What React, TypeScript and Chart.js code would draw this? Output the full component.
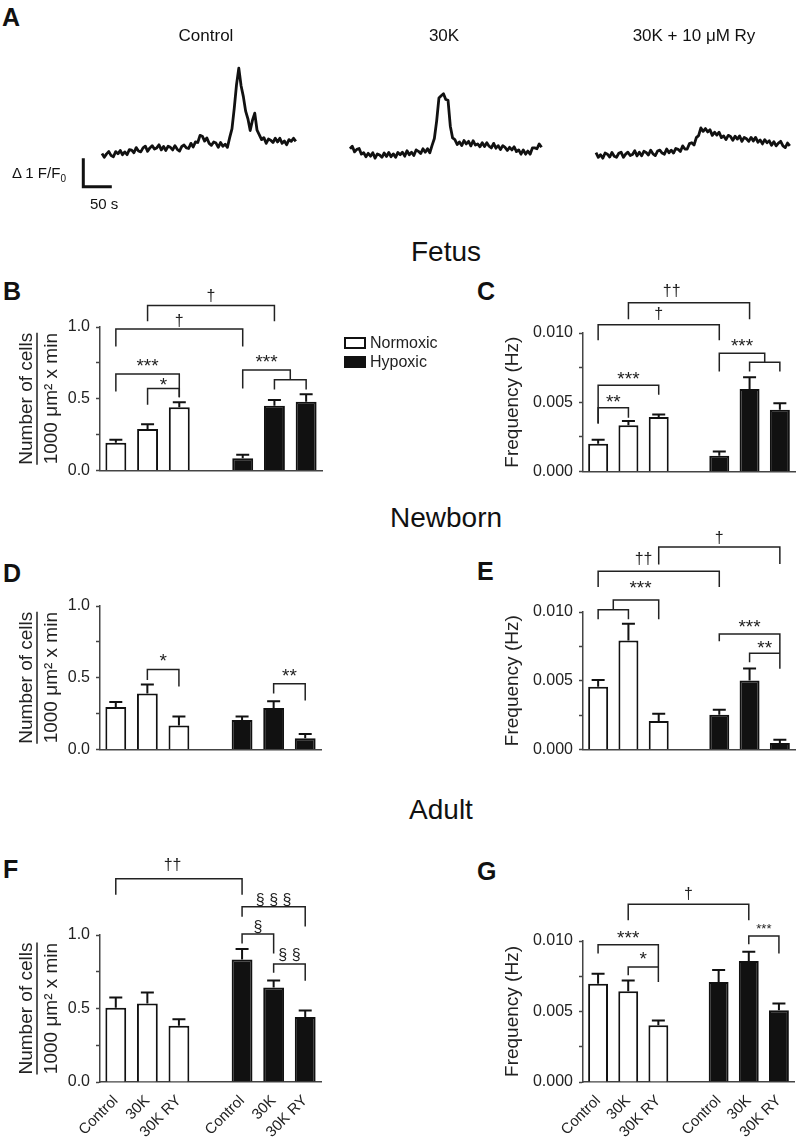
import React, { useEffect, useRef } from 'react';
import { Chart, registerables } from 'chart.js';
Chart.register(...registerables);

const FONT = '"Liberation Sans", Arial, Helvetica, sans-serif';
Chart.defaults.font.family = FONT;
Chart.defaults.color = '#222';

// ---------- Panel A: Ca2+ traces (ΔF/F0), one sample every TRACE_DT seconds ----------
const TRACE_DT = 4;
const CONTROL_TRACE = [0.40,0.27,0.39,0.47,0.33,0.29,0.47,0.39,0.51,0.36,0.46,0.36,0.54,0.52,0.43,0.61,0.49,0.46,0.60,0.66,0.48,0.60,0.68,0.56,0.60,0.71,0.53,0.65,0.51,0.66,0.62,0.53,0.68,0.55,0.49,0.65,0.70,0.60,0.58,0.76,0.63,0.81,0.79,1.04,1.01,0.84,0.95,0.76,0.69,0.81,0.77,0.62,0.79,0.66,0.73,0.62,0.96,1.27,1.99,2.82,3.40,2.78,2.40,1.89,1.62,1.21,1.57,1.82,1.22,1.06,0.89,0.96,0.76,0.91,0.87,0.79,0.94,0.81,0.94,0.76,0.84,0.71,0.89,0.83,0.94,0.83];
const K30_TRACE = [0.57,0.66,0.46,0.55,0.58,0.38,0.43,0.29,0.41,0.31,0.43,0.24,0.39,0.35,0.27,0.42,0.30,0.44,0.29,0.39,0.27,0.44,0.36,0.45,0.31,0.50,0.36,0.45,0.33,0.53,0.48,0.40,0.57,0.45,0.57,0.43,0.69,0.93,1.54,2.35,2.43,2.50,2.30,2.27,1.36,0.95,0.89,0.72,0.81,0.68,0.86,0.74,0.83,0.67,0.85,0.70,0.74,0.64,0.78,0.65,0.78,0.66,0.60,0.76,0.59,0.68,0.54,0.68,0.62,0.51,0.62,0.53,0.64,0.47,0.53,0.38,0.53,0.38,0.49,0.38,0.60,0.60,0.57,0.74,0.62];
const RY_TRACE = [0.43,0.27,0.36,0.24,0.42,0.38,0.28,0.44,0.31,0.27,0.41,0.45,0.27,0.38,0.45,0.33,0.37,0.50,0.32,0.45,0.32,0.48,0.44,0.35,0.52,0.39,0.33,0.49,0.52,0.42,0.38,0.56,0.43,0.52,0.42,0.58,0.55,0.47,0.67,0.56,0.56,0.75,0.78,0.70,0.96,1.03,1.30,1.18,1.28,1.16,1.24,1.04,1.15,1.05,1.15,0.96,1.02,0.89,1.04,1.00,0.87,1.01,0.91,1.02,0.83,0.97,0.92,0.83,0.97,0.84,0.97,0.80,0.88,0.74,0.89,0.78,0.85,0.69,0.82,0.67,0.77,0.83,0.67,0.61,0.77,0.67];
const TRACE_TITLES = ['Control', '30K', '30K + 10 μM Ry'];
const SCALE_BAR_SEC = 50;
const SCALE_BAR_DFF = 1;

// ---------- Bar panels ----------
const GROUPS = ['Control', '30K', '30K RY', '', 'Control', '30K', '30K RY'];
const SERIES = ['Normoxic', 'Hypoxic'];

// Fetus
const B_NORMOXIC = [0.193, 0.288, 0.44];
const B_NORMOXIC_SEM = [0.02, 0.034, 0.036];
const B_HYPOXIC = [0.084, 0.451, 0.478];
const B_HYPOXIC_SEM = [0.025, 0.04, 0.053];
const C_NORMOXIC = [0.0020, 0.00334, 0.00393];
const C_NORMOXIC_SEM = [0.00028, 0.00031, 0.00019];
const C_HYPOXIC = [0.00113, 0.00595, 0.00445];
const C_HYPOXIC_SEM = [0.00031, 0.00085, 0.00047];
// Newborn
const D_NORMOXIC = [0.295, 0.389, 0.166];
const D_NORMOXIC_SEM = [0.035, 0.063, 0.064];
const D_HYPOXIC = [0.205, 0.289, 0.077];
const D_HYPOXIC_SEM = [0.025, 0.047, 0.030];
const E_NORMOXIC = [0.00456, 0.00792, 0.00206];
const E_NORMOXIC_SEM = [0.0005, 0.00123, 0.00054];
const E_HYPOXIC = [0.00253, 0.00501, 0.00047];
const E_HYPOXIC_SEM = [0.00035, 0.00088, 0.00024];
// Adult
const F_NORMOXIC = [0.505, 0.534, 0.382];
const F_NORMOXIC_SEM = [0.07, 0.075, 0.045];
const F_HYPOXIC = [0.834, 0.643, 0.443];
const F_HYPOXIC_SEM = [0.071, 0.048, 0.043];
const G_NORMOXIC = [0.00697, 0.00643, 0.00402];
const G_NORMOXIC_SEM = [0.00071, 0.00076, 0.00035];
const G_HYPOXIC = [0.00709, 0.00858, 0.00508];
const G_HYPOXIC_SEM = [0.00085, 0.00066, 0.00048];

// Significance brackets: category index from/to, bar level, leg ends, label and its level
type Bracket = { from: number; to: number; y: number; l1: number; l2: number; text?: string; ty?: number; tx?: number; size?: number };
const B_BRACKETS: Bracket[] = [
  { from: 1, to: 5, y: 1.15, l1: 1.04, l2: 1.04, text: '†', ty: 1.22 },
  { from: 0, to: 4, y: 0.986, l1: 0.864, l2: 0.864, text: '†', ty: 1.048 },
  { from: 0, to: 2, y: 0.673, l1: 0.551, l2: 0.51, text: '***', ty: 0.755 },
  { from: 1, to: 2, y: 0.571, l1: 0.458, l2: 0.51, text: '*', ty: 0.619 },
  { from: 4, to: 5.5, y: 0.70, l1: 0.571, l2: 0.633, text: '***', ty: 0.782 },
  { from: 5, to: 6, y: 0.633, l1: 0.565, l2: 0.565 },
];
const C_BRACKETS: Bracket[] = [
  { from: 1, to: 5, y: 0.01219, l1: 0.0110, l2: 0.0110, text: '††', ty: 0.01306, tx: 2.43 },
  { from: 0, to: 4, y: 0.01059, l1: 0.00948, l2: 0.00948, text: '†', ty: 0.01143 },
  { from: 0, to: 2, y: 0.00623, l1: 0.00346, l2: 0.00553, text: '***', ty: 0.00692 },
  { from: 0, to: 1, y: 0.00459, l1: 0.00346, l2: 0.00388, text: '**', ty: 0.00529 },
  { from: 4, to: 5.5, y: 0.00854, l1: 0.00722, l2: 0.00788, text: '***', ty: 0.00932 },
  { from: 5, to: 6, y: 0.00788, l1: 0.00722, l2: 0.00722 },
];
const D_BRACKETS: Bracket[] = [
  { from: 1, to: 2, y: 0.557, l1: 0.484, l2: 0.439, text: '*', ty: 0.639 },
  { from: 5, to: 6, y: 0.457, l1: 0.389, l2: 0.341, text: '**', ty: 0.536 },
];
const E_BRACKETS: Bracket[] = [
  { from: 2, to: 6, y: 0.01473, l1: 0.01345, l2: 0.0135, text: '†', ty: 0.01544 },
  { from: 0, to: 4, y: 0.01296, l1: 0.01182, l2: 0.01182, text: '††', ty: 0.0139, tx: 1.5 },
  { from: 0, to: 1, y: 0.01017, l1: 0.00948, l2: 0.00948 },
  { from: 0.5, to: 2, y: 0.01088, l1: 0.01017, l2: 0.00948, text: '***', ty: 0.01201, tx: 1.4 },
  { from: 4, to: 6, y: 0.0084, l1: 0.00787, l2: 0.00587, text: '***', ty: 0.00918 },
  { from: 5, to: 6, y: 0.007, l1: 0.00634, l2: 0.007, text: '**', ty: 0.00764 },
];
const F_BRACKETS: Bracket[] = [
  { from: 0, to: 4, y: 1.382, l1: 1.273, l2: 1.273, text: '††', ty: 1.477, tx: 1.8 },
  { from: 4, to: 6, y: 1.193, l1: 1.125, l2: 1.057, text: '§ § §', ty: 1.239 },
  { from: 4, to: 5, y: 1.007, l1: 0.943, l2: 0.875, text: '§', ty: 1.057 },
  { from: 5, to: 6, y: 0.802, l1: 0.743, l2: 0.688, text: '§ §', ty: 0.864 },
];
const G_BRACKETS: Bracket[] = [
  { from: 1, to: 5, y: 0.0126, l1: 0.01147, l2: 0.01147, text: '†', ty: 0.01336 },
  { from: 0, to: 2, y: 0.00974, l1: 0.00911, l2: 0.00709, text: '***', ty: 0.01047 },
  { from: 1, to: 2, y: 0.00816, l1: 0.00757, l2: 0.00816, text: '*', ty: 0.00894 },
  { from: 5, to: 6, y: 0.01035, l1: 0.00977, l2: 0.00911, text: '***', ty: 0.01104, size: 13 },
];

const COUNT_TITLE = ['Number of cells', '1000 μm² x min'];
const FREQ_TITLE = 'Frequency (Hz)';

const INK = '#111';
const Y_AXIS_W = 100;

function labelSize(t: string) {
  return t.includes('*') ? 19 : 16;
}

function makeOverlayPlugin(brackets: Bracket[], legend: boolean, underline: boolean) {
  return {
    id: 'overlay',
    afterDatasetsDraw(chart: any) {
      const ctx = chart.ctx;
      const xs = chart.scales.x;
      const ys = chart.scales.y;
      ctx.save();
      // error bars
      chart.data.datasets.forEach((ds: any, i: number) => {
        const meta = chart.getDatasetMeta(i);
        meta.data.forEach((el: any, j: number) => {
          const v = ds.data[j];
          const e = ds.errors ? ds.errors[j] : null;
          if (v == null || e == null) return;
          const x = el.x;
          const y0 = ys.getPixelForValue(v);
          const y1 = ys.getPixelForValue(v + e);
          ctx.strokeStyle = INK;
          ctx.lineWidth = 2;
          ctx.beginPath();
          ctx.moveTo(x, y0);
          ctx.lineTo(x, y1);
          ctx.moveTo(x - 6.5, y1);
          ctx.lineTo(x + 6.5, y1);
          ctx.stroke();
        });
      });
      // brackets
      ctx.strokeStyle = '#222';
      ctx.lineWidth = 1.5;
      ctx.lineJoin = 'miter';
      brackets.forEach((b) => {
        const x1 = xs.getPixelForValue(b.from);
        const x2 = xs.getPixelForValue(b.to);
        const yb = ys.getPixelForValue(b.y);
        ctx.beginPath();
        ctx.moveTo(x1, ys.getPixelForValue(b.l1));
        ctx.lineTo(x1, yb);
        ctx.lineTo(x2, yb);
        ctx.lineTo(x2, ys.getPixelForValue(b.l2));
        ctx.stroke();
        if (b.text) {
          const size = b.size || labelSize(b.text);
          ctx.font = `${size}px ${FONT}`;
          ctx.fillStyle = '#222';
          ctx.textAlign = 'center';
          ctx.textBaseline = 'alphabetic';
          const m = ctx.measureText(b.text);
          const yc = ys.getPixelForValue(b.ty ?? b.y);
          const base = yc + (m.actualBoundingBoxAscent - m.actualBoundingBoxDescent) / 2;
          const xc = xs.getPixelForValue(b.tx ?? (b.from + b.to) / 2);
          ctx.fillText(b.text, xc, base);
        }
      });
      // underline of fraction title
      if (underline) {
        ctx.font = `19px ${FONT}`;
        const w = ctx.measureText(COUNT_TITLE[0]).width;
        const cx = ys.left + 37;
        const cy = (ys.top + ys.bottom) / 2;
        ctx.strokeStyle = '#222';
        ctx.lineWidth = 1.5;
        ctx.beginPath();
        ctx.moveTo(cx, cy - w / 2);
        ctx.lineTo(cx, cy + w / 2);
        ctx.stroke();
      }
      // legend
      if (legend) {
        const x0 = chart.chartArea.right + 23;
        chart.data.datasets.forEach((ds: any, i: number) => {
          const yc = chart.chartArea.top + 16 + i * 19;
          ctx.fillStyle = ds.backgroundColor;
          ctx.fillRect(x0, yc - 5, 20, 10);
          ctx.strokeStyle = INK;
          ctx.lineWidth = 2;
          ctx.strokeRect(x0, yc - 5, 20, 10);
          ctx.fillStyle = '#222';
          ctx.font = `16px ${FONT}`;
          ctx.textAlign = 'left';
          ctx.textBaseline = 'middle';
          ctx.fillText(ds.label, x0 + 25, yc + 1);
        });
      }
      ctx.restore();
    },
  };
}

type PanelProps = {
  area: { x: number; y: number; w: number; h: number };
  pt: number; pr: number; xh: number;
  yMax: number; dec: number;
  title: string | string[];
  norm: number[]; normErr: number[]; hyp: number[]; hypErr: number[];
  brackets: Bracket[];
  legend?: boolean; xLabels?: boolean;
};

function BarPanel(p: PanelProps) {
  const ref = useRef<HTMLCanvasElement>(null);
  const W = Y_AXIS_W + p.area.w + p.pr;
  const H = p.pt + p.area.h + p.xh;
  useEffect(() => {
    const pad = [null, null, null, null];
    const fraction = Array.isArray(p.title);
    const chart = new Chart(ref.current as HTMLCanvasElement, {
      type: 'bar',
      data: {
        labels: GROUPS,
        datasets: [
          { label: SERIES[0], data: [...p.norm, ...pad], errors: [...p.normErr, ...pad], backgroundColor: '#ffffff', borderColor: INK, borderWidth: 2, grouped: false, barPercentage: 0.66, categoryPercentage: 1 } as any,
          { label: SERIES[1], data: [...pad, ...p.hyp], errors: [...pad, ...p.hypErr], backgroundColor: INK, borderColor: INK, borderWidth: 2, grouped: false, barPercentage: 0.66, categoryPercentage: 1 } as any,
        ],
      },
      options: {
        responsive: false,
        animation: false,
        events: [],
        layout: { padding: { left: 0, top: p.pt, right: p.pr, bottom: 0 } },
        plugins: { legend: { display: false }, tooltip: { enabled: false } },
        scales: {
          x: {
            type: 'category',
            offset: true,
            grid: { display: false },
            border: { display: true, color: '#444', width: 1.5 },
            ticks: { display: !!p.xLabels, autoSkip: false, minRotation: 45, maxRotation: 45, font: { size: 15, family: FONT }, color: '#222', padding: 2 },
            afterFit: (s: any) => { s.height = p.xh; },
          },
          y: {
            min: 0,
            max: p.yMax,
            ticks: {
              stepSize: p.yMax / 4,
              autoSkip: false,
              padding: 6,
              font: { size: 16, family: FONT },
              color: '#222',
              callback: (v: any) => {
                const r = v / (p.yMax / 2);
                return Math.abs(r - Math.round(r)) < 1e-6 ? Number(v).toFixed(p.dec) : '';
              },
            },
            grid: { display: true, drawOnChartArea: false, drawTicks: true, tickLength: 4, tickColor: '#444', tickWidth: 1.5 },
            border: { display: true, color: '#444', width: 1.5 },
            title: {
              display: true,
              text: p.title as any,
              color: '#222',
              font: { size: 19, family: FONT, lineHeight: fraction ? 1.3 : 1.2 },
              padding: { top: fraction ? 14.65 : 18.6, bottom: 0 },
            },
            afterFit: (s: any) => { s.width = Y_AXIS_W; },
          },
        },
      } as any,
      plugins: [makeOverlayPlugin(p.brackets, !!p.legend, fraction)],
    });
    return () => chart.destroy();
  }, []);
  return (
    <canvas ref={ref} width={W} height={H}
      style={{ position: 'absolute', left: p.area.x - Y_AXIS_W, top: p.area.y - p.pt, width: W, height: H }} />
  );
}

// Panel A trace geometry (layout only)
const A_TOP = 40, A_H = 175, A_BASE_PX = 165, A_PX_PER_UNIT = 28.5;
const SEC_PER_PX = SCALE_BAR_SEC / A_PX_PER_UNIT;
const TRACE_START_PX = [102, 350, 596];
const SCALE_BAR_PX = { x: 83.3, y: 186.7 };

function TracePanel() {
  const ref = useRef<HTMLCanvasElement>(null);
  useEffect(() => {
    const traces = [CONTROL_TRACE, K30_TRACE, RY_TRACE];
    const datasets: any[] = traces.map((tr, k) => ({
      label: TRACE_TITLES[k],
      data: tr.map((v, i) => ({ x: TRACE_START_PX[k] * SEC_PER_PX + i * TRACE_DT, y: v })),
      borderColor: INK, borderWidth: 2.8, pointRadius: 0, borderJoinStyle: 'round', tension: 0,
    }));
    const sx = SCALE_BAR_PX.x * SEC_PER_PX;
    const sy = (A_BASE_PX - SCALE_BAR_PX.y) / A_PX_PER_UNIT;
    datasets.push({
      label: 'scale',
      data: [{ x: sx, y: sy + SCALE_BAR_DFF }, { x: sx, y: sy }, { x: sx + SCALE_BAR_SEC, y: sy }],
      borderColor: INK, borderWidth: 3, pointRadius: 0, borderJoinStyle: 'miter', borderCapStyle: 'butt',
    });
    const chart = new Chart(ref.current as HTMLCanvasElement, {
      type: 'line',
      data: { datasets },
      options: {
        responsive: false,
        animation: false,
        events: [],
        layout: { padding: 0 },
        plugins: { legend: { display: false }, tooltip: { enabled: false } },
        scales: {
          x: { type: 'linear', display: false, min: 0, max: 803 * SEC_PER_PX },
          y: { type: 'linear', display: false, min: (A_BASE_PX - (A_TOP + A_H)) / A_PX_PER_UNIT, max: (A_BASE_PX - A_TOP) / A_PX_PER_UNIT },
        },
      } as any,
    });
    return () => chart.destroy();
  }, []);
  return <canvas ref={ref} width={803} height={A_H} style={{ position: 'absolute', left: 0, top: A_TOP, width: 803, height: A_H }} />;
}

function Txt(props: { x: number; base: number; size: number; bold?: boolean; center?: boolean; children: any }) {
  const { x, base, size, bold, center, children } = props;
  const style: any = {
    position: 'absolute', top: base - size * 0.8465, fontSize: size, lineHeight: `${size}px`,
    fontWeight: bold ? 'bold' : 'normal', whiteSpace: 'nowrap', fontFamily: FONT, color: '#111',
  };
  if (center) { style.left = x - 200; style.width = 400; style.textAlign = 'center'; } else { style.left = x; }
  return <div style={style}>{children}</div>;
}

export default function App() {
  return (
    <div style={{ position: 'absolute', left: 0, top: 0, width: 803, height: 1140, background: '#fff', overflow: 'hidden', fontFamily: FONT }}>
      <TracePanel />
      <Txt x={2} base={26} size={25} bold>A</Txt>
      <Txt x={206} base={41} size={17} center>{TRACE_TITLES[0]}</Txt>
      <Txt x={444} base={41} size={17} center>{TRACE_TITLES[1]}</Txt>
      <Txt x={694} base={41} size={17} center>{TRACE_TITLES[2]}</Txt>
      <Txt x={12} base={178} size={15}>Δ 1 F/F<sub style={{ fontSize: 10 }}>0</sub></Txt>
      <Txt x={90} base={209} size={15}>{SCALE_BAR_SEC} s</Txt>

      <Txt x={446} base={262} size={28} center>Fetus</Txt>
      <Txt x={446} base={528} size={28} center>Newborn</Txt>
      <Txt x={441} base={820} size={28} center>Adult</Txt>

      <Txt x={3} base={300} size={25} bold>B</Txt>
      <Txt x={477} base={300} size={25} bold>C</Txt>
      <Txt x={3} base={582} size={25} bold>D</Txt>
      <Txt x={477} base={580} size={25} bold>E</Txt>
      <Txt x={3} base={878} size={25} bold>F</Txt>
      <Txt x={477} base={880} size={25} bold>G</Txt>

      <BarPanel area={{ x: 100, y: 327, w: 222, h: 147 }} pt={50} pr={125} xh={12} yMax={1} dec={1} title={COUNT_TITLE}
        norm={B_NORMOXIC} normErr={B_NORMOXIC_SEM} hyp={B_HYPOXIC} hypErr={B_HYPOXIC_SEM} brackets={B_BRACKETS} legend />
      <BarPanel area={{ x: 583, y: 333, w: 212, h: 142 }} pt={55} pr={8} xh={12} yMax={0.01} dec={3} title={FREQ_TITLE}
        norm={C_NORMOXIC} normErr={C_NORMOXIC_SEM} hyp={C_HYPOXIC} hypErr={C_HYPOXIC_SEM} brackets={C_BRACKETS} />
      <BarPanel area={{ x: 100, y: 606, w: 221, h: 147 }} pt={20} pr={10} xh={12} yMax={1} dec={1} title={COUNT_TITLE}
        norm={D_NORMOXIC} normErr={D_NORMOXIC_SEM} hyp={D_HYPOXIC} hypErr={D_HYPOXIC_SEM} brackets={D_BRACKETS} />
      <BarPanel area={{ x: 583, y: 612, w: 212, h: 141 }} pt={90} pr={8} xh={12} yMax={0.01} dec={3} title={FREQ_TITLE}
        norm={E_NORMOXIC} normErr={E_NORMOXIC_SEM} hyp={E_HYPOXIC} hypErr={E_HYPOXIC_SEM} brackets={E_BRACKETS} />
      <BarPanel area={{ x: 100, y: 935, w: 221, h: 147 }} pt={85} pr={16} xh={58} yMax={1} dec={1} title={COUNT_TITLE}
        norm={F_NORMOXIC} normErr={F_NORMOXIC_SEM} hyp={F_HYPOXIC} hypErr={F_HYPOXIC_SEM} brackets={F_BRACKETS} xLabels />
      <BarPanel area={{ x: 583, y: 941, w: 211, h: 141 }} pt={60} pr={9} xh={58} yMax={0.01} dec={3} title={FREQ_TITLE}
        norm={G_NORMOXIC} normErr={G_NORMOXIC_SEM} hyp={G_HYPOXIC} hypErr={G_HYPOXIC_SEM} brackets={G_BRACKETS} xLabels />
    </div>
  );
}
